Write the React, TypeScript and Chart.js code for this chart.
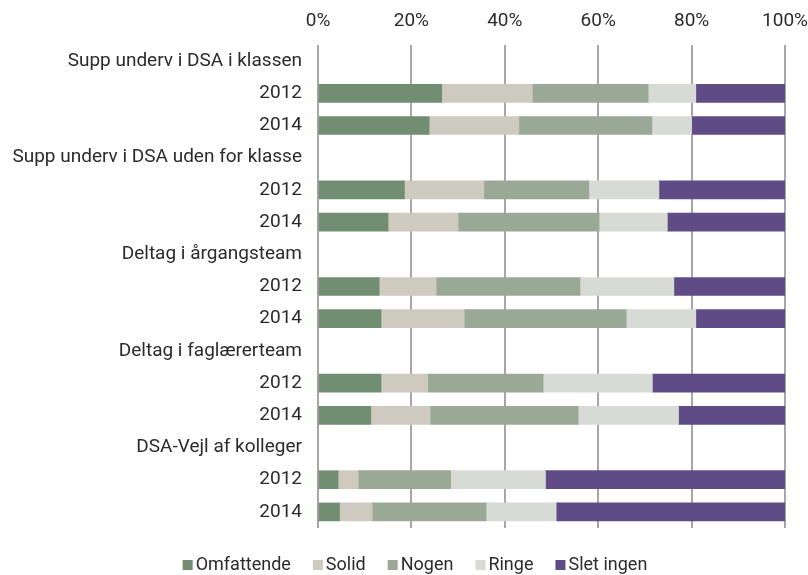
import React, { useEffect, useRef } from "react";
import { Chart, registerables } from "chart.js";

Chart.register(...registerables);

const categories: string[] = [
  "Supp underv i DSA i klassen", "2012", "2014",
  "Supp underv i DSA uden for klasse", "2012", "2014",
  "Deltag i årgangsteam", "2012", "2014",
  "Deltag i faglærerteam", "2012", "2014",
  "DSA-Vejl af kolleger", "2012", "2014",
];

const omfattende = [null, 26.5, 23.8, null, 18.5, 15.0, null, 13.1, 13.5, null, 13.5, 11.3, null, 4.3, 4.6];
const solid = [null, 19.4, 19.2, null, 17.0, 15.0, null, 12.2, 17.8, null, 10.0, 12.7, null, 4.3, 7.0];
const nogen = [null, 24.8, 28.5, null, 22.5, 30.2, null, 30.8, 34.7, null, 24.7, 31.7, null, 19.8, 24.4];
const ringe = [null, 10.2, 8.5, null, 15.0, 14.6, null, 20.1, 14.9, null, 23.4, 21.5, null, 20.3, 15.0];
const sletIngen = [null, 19.1, 20.0, null, 27.0, 25.2, null, 23.8, 19.1, null, 28.4, 22.8, null, 51.3, 49.0];

const seriesNames = ["Omfattende", "Solid", "Nogen", "Ringe", "Slet ingen"];
const seriesColors = ["#718d72", "#cfcac0", "#9aa996", "#d8dbd5", "#5f4c86"];
const xTicks = [0, 20, 40, 60, 80, 100];

const FONT = "Roboto, 'Noto Sans', sans-serif";
const TEXT = "#2b2b2b";

const bottomLegend = {
  id: "bottomLegend",
  afterDraw(chart: any) {
    const ctx = chart.ctx;
    const items = chart.data.datasets.map((d: any) => ({ text: d.label, color: d.backgroundColor }));
    ctx.save();
    ctx.font = `18px ${FONT}`;
    const box = 10;
    const gapText = 3;
    const gapItem = 22;
    const widths = items.map((it: any) => box + gapText + ctx.measureText(it.text).width);
    const total = widths.reduce((a: number, b: number) => a + b, 0) + gapItem * (items.length - 1);
    const cy = 565;
    let x = 415 - total / 2;
    ctx.textBaseline = "middle";
    ctx.textAlign = "left";
    items.forEach((it: any, i: number) => {
      ctx.fillStyle = it.color;
      ctx.fillRect(x, cy - box / 2, box, box);
      ctx.fillStyle = TEXT;
      ctx.fillText(it.text, x + box + gapText, cy);
      x += widths[i] + gapItem;
    });
    ctx.restore();
  },
};

export default function App() {
  const ref = useRef<HTMLCanvasElement | null>(null);
  useEffect(() => {
    if (!ref.current) return;
    const values = [omfattende, solid, nogen, ringe, sletIngen];
    const chart = new Chart(ref.current, {
      type: "bar",
      data: {
        labels: categories,
        datasets: values.map((v, i) => ({
          label: seriesNames[i],
          data: v as any,
          backgroundColor: seriesColors[i],
          borderWidth: 0,
          barThickness: 18,
        })),
      },
      options: {
        indexAxis: "y",
        animation: false,
        responsive: false,
        maintainAspectRatio: false,
        layout: { padding: { left: 0, right: 23, top: 0, bottom: 47 } },
        plugins: {
          tooltip: { enabled: false },
          legend: { display: false },
        },
        scales: {
          x: {
            position: "top",
            stacked: true,
            min: 0,
            max: 100,
            afterBuildTicks: (s: any) => {
              s.ticks = xTicks.map((v) => ({ value: v }));
            },
            afterFit: (s: any) => {
              s.height = 45;
              s.paddingLeft = 0;
              s.paddingRight = 0;
            },
            ticks: {
              callback: (v: any) => v + "%",
              color: TEXT,
              font: { family: FONT, size: 19 },
              padding: 12,
              maxRotation: 0,
            },
            grid: { color: "#a6a6a6", lineWidth: 2, drawTicks: false },
            border: { display: false },
          },
          y: {
            stacked: true,
            afterFit: (s: any) => {
              s.width = 318;
            },
            ticks: {
              color: TEXT,
              font: { family: FONT, size: 19 },
              padding: 16,
              autoSkip: false,
            },
            grid: { display: false, drawTicks: false },
            border: { display: false },
          },
        },
      },
      plugins: [bottomLegend],
    });
    return () => chart.destroy();
  }, []);
  return (
    <div style={{ position: "absolute", left: 0, top: 0, width: 808, height: 575, background: "#fff" }}>
      <canvas ref={ref} width={808} height={575} style={{ width: 808, height: 575 }} />
    </div>
  );
}
